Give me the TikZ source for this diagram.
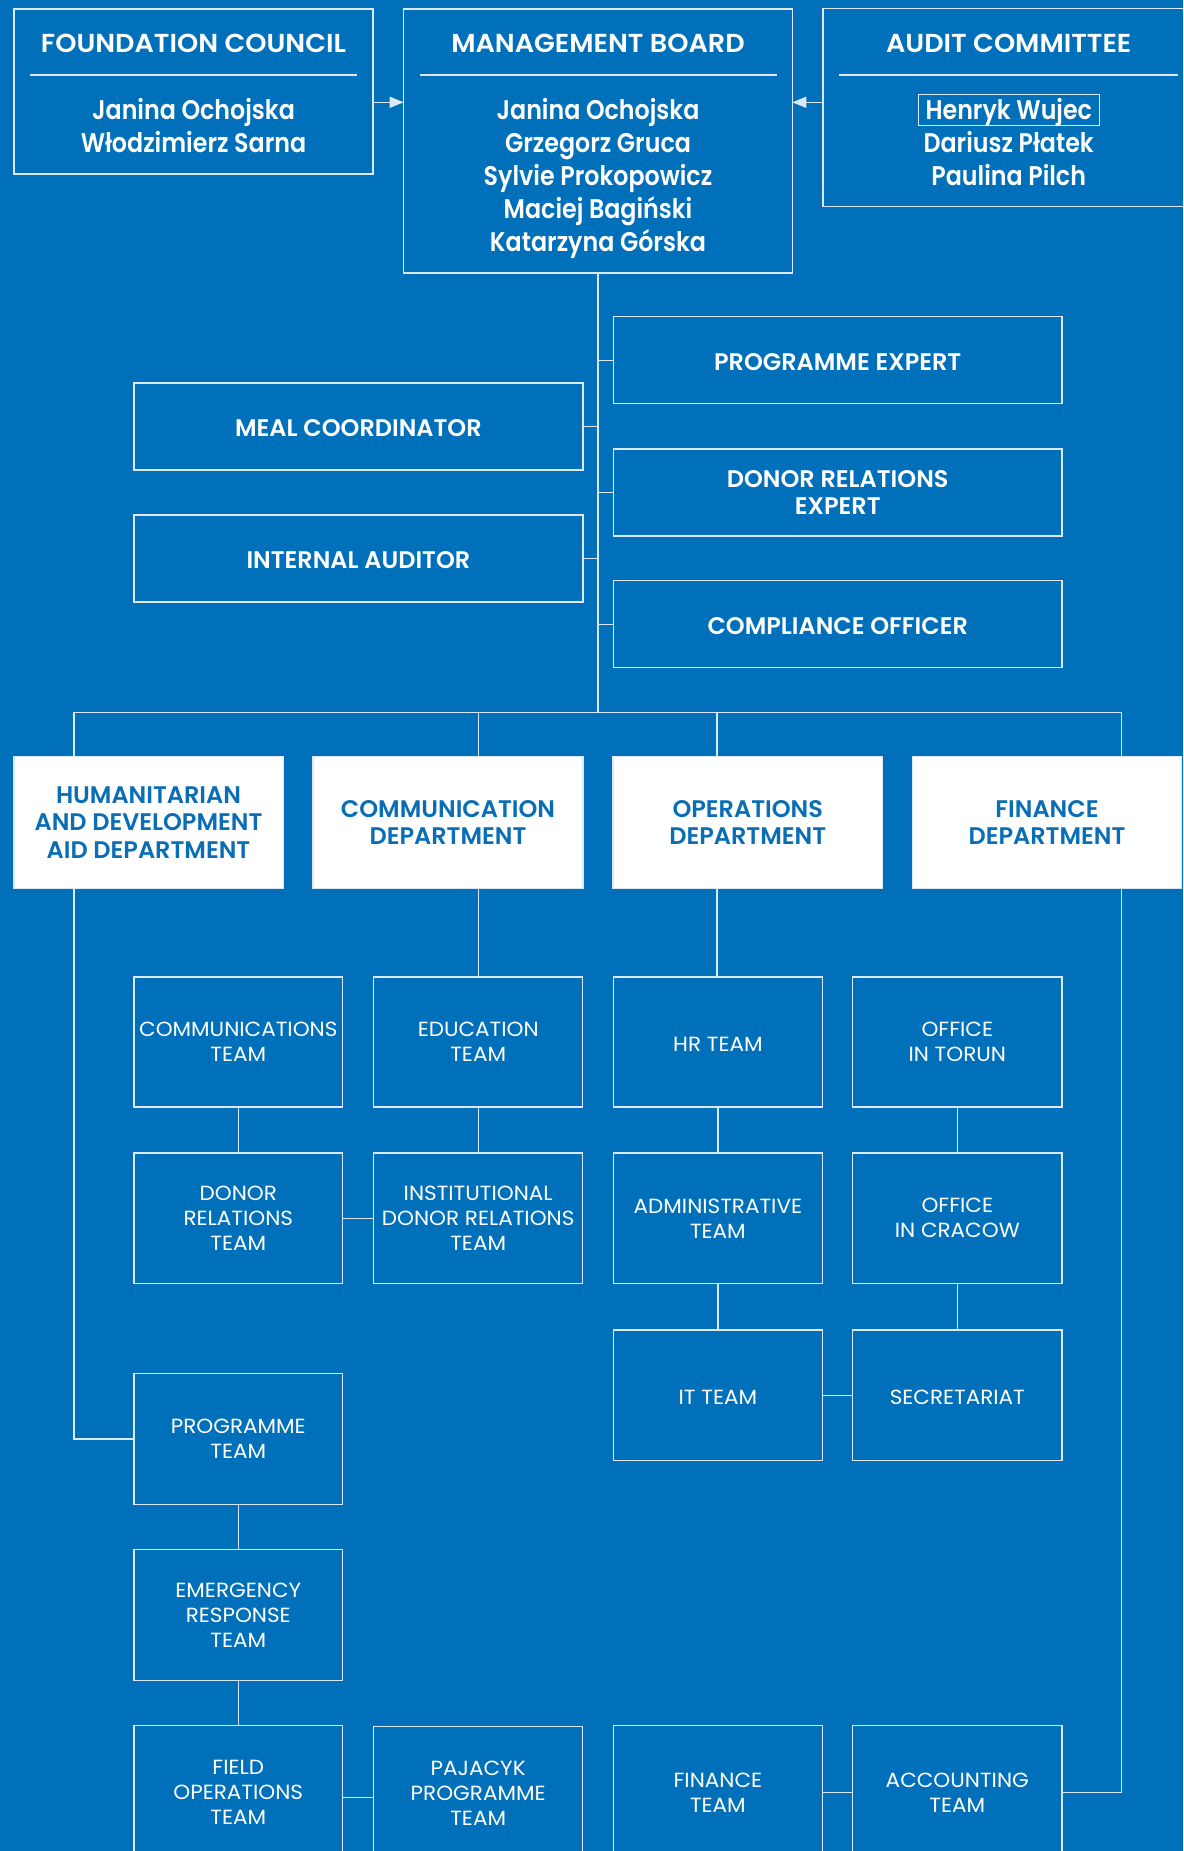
\documentclass[tikz,border=0pt]{standalone}
\usepackage{fontspec}
\setmainfont{Poppins}
\newfontfamily\fname{Poppins SemiBold}[FakeStretch=0.88]
\newfontfamily\fttl{Poppins SemiBold}[FakeStretch=1.04]
\newfontfamily\fsemi{Poppins SemiBold}
\newfontfamily\fteam{Poppins}[FakeStretch=1.05]
\usetikzlibrary{arrows.meta}
\definecolor{bg}{HTML}{0070BA}
\definecolor{ln}{HTML}{DCE9F5}
\definecolor{deptc}{HTML}{0A6EB7}
\begin{document}
\begin{tikzpicture}[x=1pt,y=-1pt,
  frame/.style={draw=ln, line width=1.4pt, inner sep=0pt, outer sep=0pt, align=center, text=white},
  wh/.style 2 args={minimum width=#1pt, minimum height=#2pt},
  side/.style={frame, font=\fsemi\fontsize{24}{26.7}\selectfont, execute at begin node={\rule{0pt}{20.7pt}}},
  team/.style={frame, font=\fteam\fontsize{20.5}{25}\selectfont, execute at begin node={\rule{0pt}{18.5pt}}},
  dept/.style={frame, fill=white, text=deptc, font=\fsemi\fontsize{24}{27.3}\selectfont, execute at begin node={\rule{0pt}{20.7pt}}},
  ttl/.style={text=white, inner sep=0pt, anchor=base, font=\fttl\fontsize{26}{30}\selectfont},
  nm/.style={text=white, inner sep=0pt, anchor=base, font=\fname\fontsize{27}{33}\selectfont},
  con/.style={draw=ln, line width=1.4pt},
  sep/.style={draw=ln, line width=1.4pt},
  arr/.style={con, -{Triangle[length=14pt,width=11pt]}}
]
\useasboundingbox (0,0) rectangle (1183,1851);
\fill[bg] (0,0) rectangle (1183,1851);
\clip (0,0) rectangle (1183,1851);

% top boxes
\node[frame, wh={359}{165}] (fc) at (193.5,91.5) {};
\node[frame, wh={388.6}{264}] (mb) at (598,141) {};
\node[frame, wh={380}{198}] (ac) at (1013.1,107.8) {};
\draw[sep] (29.9,75) -- (357,75);
\draw[sep] (419.8,75) -- (776.5,75);
\draw[sep] (838.8,75) -- (1178,75);

\node[ttl] (fct) at (193.5,52.7) {FOUNDATION COUNCIL};
\node[ttl] (mbt) at (598,52.7) {MANAGEMENT BOARD};
\node[ttl] (act) at (1008.7,52.7) {AUDIT COMMITTEE};

\node[nm] (fc1) at (193.5,120) {Janina Ochojska};
\node[nm] (fc2) at (193.5,153) {Włodzimierz Sarna};

\node[nm] (mb1) at (598,120) {Janina Ochojska};
\node[nm] (mb2) at (598,153) {Grzegorz Gruca};
\node[nm] (mb3) at (598,186) {Sylvie Prokopowicz};
\node[nm] (mb4) at (598,219) {Maciej Bagiński};
\node[nm] (mb5) at (598,252) {Katarzyna Górska};

\node[nm, draw=ln, line width=1.2pt, minimum width=180.7pt, text height=25.3pt, text depth=5.7pt] (ac1) at (1008.8,119.5) {Henryk Wujec};
\node[nm] (ac2) at (1008.7,153) {Dariusz Płatek};
\node[nm] (ac3) at (1008.7,186) {Paulina Pilch};

\coordinate (arrY) at (0,102.3);
\draw[arr] (fc.east |- arrY) -- (mb.west |- arrY);
\draw[arr] (ac.west |- arrY) -- (mb.east |- arrY);

% side boxes
\node[side, wh={448.4}{87}] (pe) at (837.7,360.2) {PROGRAMME EXPERT};
\node[side, wh={448.4}{87}] (dre) at (837.7,492.4) {DONOR RELATIONS\\EXPERT};
\node[side, wh={448.4}{87}] (co) at (837.7,624.2) {COMPLIANCE OFFICER};
\node[side, wh={448.9}{87}] (mc) at (358.4,426.3) {MEAL COORDINATOR};
\node[side, wh={448.9}{87}] (ia) at (358.4,558.5) {INTERNAL AUDITOR};

% bus coordinates
\coordinate (hd) at (73.9,712.3);
\coordinate (cd) at (478.4,712.3);
\coordinate (od) at (716.9,712.3);
\coordinate (fd) at (1121.5,712.3);

\draw[con] (mb.south) -- (mb.south |- hd);
\draw[con] (mb.south |- pe.west) -- (pe.west);
\draw[con] (mb.south |- dre.west) -- (dre.west);
\draw[con] (mb.south |- co.west) -- (co.west);
\draw[con] (mb.south |- mc.east) -- (mc.east);
\draw[con] (mb.south |- ia.east) -- (ia.east);

% departments
\node[dept, wh={269.4}{131.6}] (hum) at (148.5,822.5) {HUMANITARIAN\\AND DEVELOPMENT\\AID DEPARTMENT};
\node[dept, wh={269.9}{131.6}] (com) at (448,822.5) {COMMUNICATION\\DEPARTMENT};
\node[dept, wh={269.2}{131.6}] (ops) at (747.7,822.5) {OPERATIONS\\DEPARTMENT};
\node[dept, wh={269.4}{131.6}] (fin) at (1047,822.5) {FINANCE\\DEPARTMENT};

\draw[con] (hd) -- (fd);
\draw[con] (hd) -- (hd |- hum.north);
\draw[con] (cd) -- (cd |- com.north);
\draw[con] (od) -- (od |- ops.north);
\draw[con] (fd) -- (fd |- fin.north);

% teams
\node[team, wh={208.5}{130}] (ct) at (238.3,1042) {COMMUNICATIONS\\TEAM};
\node[team, wh={209}{130}] (edu) at (478.2,1042) {EDUCATION\\TEAM};
\node[team, wh={208.8}{130}] (hr) at (717.9,1042) {HR TEAM};
\node[team, wh={209.2}{130}] (tor) at (957.3,1042) {OFFICE\\IN TORUN};

\node[team, wh={208.5}{130.7}] (drt) at (238.3,1218.3) {DONOR\\RELATIONS\\TEAM};
\node[team, wh={209}{130.7}] (idr) at (478.2,1218.3) {INSTITUTIONAL\\DONOR RELATIONS\\TEAM};
\node[team, wh={208.8}{130.7}] (adm) at (717.9,1218.3) {ADMINISTRATIVE\\TEAM};
\node[team, wh={209.2}{130.7}] (cra) at (957.3,1218.3) {OFFICE\\IN CRACOW};

\node[team, wh={208.8}{130.7}] (it) at (717.9,1395.3) {IT TEAM};
\node[team, wh={209.2}{130.7}] (sec) at (957.3,1395.3) {SECRETARIAT};

\node[team, wh={208.5}{131}] (prog) at (238.3,1438.8) {PROGRAMME\\TEAM};
\node[team, wh={208.5}{131}] (emer) at (238.3,1614.8) {EMERGENCY\\RESPONSE\\TEAM};

\node[team, wh={208.5}{134}] (field) at (238.3,1792.3) {FIELD\\OPERATIONS\\TEAM};
\node[team, wh={209}{134}] (paj) at (478.2,1793.7) {PAJACYK\\PROGRAMME\\TEAM};
\node[team, wh={208.8}{134}] (fint) at (717.9,1792.3) {FINANCE\\TEAM};
\node[team, wh={209.2}{134}] (acc) at (957.3,1792.3) {ACCOUNTING\\TEAM};

% department connectors
\draw[con] (hd |- hum.south) |- (prog.west);
\draw[con] (cd |- com.south) -- (cd |- edu.north);
\draw[con] (od |- ops.south) -- (od |- hr.north);
\draw[con] (fd |- fin.south) |- (acc.east);

% team connectors
\draw[con] (ct.south) -- (drt.north);
\draw[con] (edu.south) -- (idr.north);
\draw[con] (drt.east) -- (idr.west);
\draw[con] (prog.south) -- (emer.north);
\draw[con] (emer.south) -- (field.north);
\coordinate (fpY) at (0,1797.3);
\draw[con] (field.east |- fpY) -- (paj.west |- fpY);
\draw[con] (hr.south) -- (adm.north);
\draw[con] (adm.south) -- (it.north);
\draw[con] (tor.south) -- (cra.north);
\draw[con] (cra.south) -- (sec.north);
\draw[con] (it.east) -- (sec.west);
\draw[con] (fint.east) -- (acc.west);
\end{tikzpicture}
\end{document}
